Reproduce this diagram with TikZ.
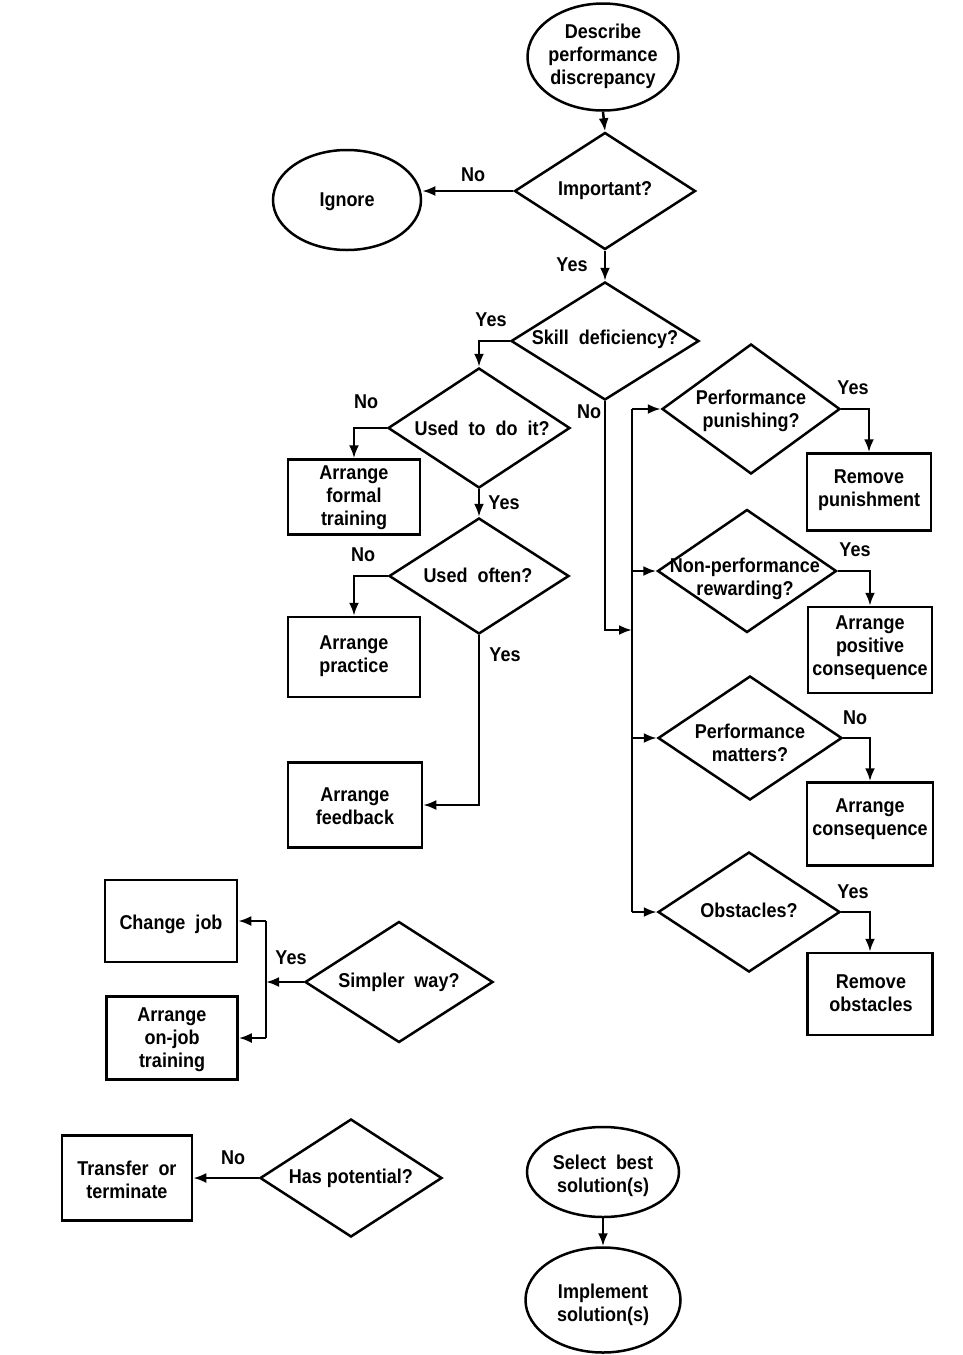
\documentclass[tikz,border=0pt]{standalone}
\usepackage{fontspec}
\setmainfont{Liberation Sans}[FakeStretch=0.9]
\usetikzlibrary{shapes.geometric,arrows.meta}
\tikzset{
  base/.style={draw=black, line width=2.5pt, inner sep=0pt, fill=white},
  dia/.style={base, diamond},
  ell/.style={base, ellipse},
  box/.style={base, rectangle},
  txt/.style={align=center, font=\fontsize{20}{23}\selectfont\bfseries, inner sep=0pt},
  lab/.style={font=\fontsize{20}{23}\selectfont\bfseries, inner sep=0pt},
  conn/.style={line width=2.5pt},
  arr/.style={conn, -{Latex[length=13pt,width=10pt]}}
}
\begin{document}
\begin{tikzpicture}[x=1pt,y=-1pt]
\useasboundingbox[fill=white] (0,0) rectangle (963,1355);

% ---- top column ----
\node[ell, minimum width=151, minimum height=107] (describe) at (603,57) {};
\node[txt] (describe-t) at (603,56) {Describe\\performance\\discrepancy};

\node[dia, minimum width=181, minimum height=117] (important) at (605,191) {};
\node[txt] (important-t) at (605,191) {Important?};

\node[ell, minimum width=148, minimum height=100] (ignore) at (347,200) {};
\node[txt] (ignore-t) at (347,202) {Ignore};

\node[dia, minimum width=188, minimum height=118] (skill) at (605,341) {};
\node[txt] (skill-t) at (605,339) {Skill\ \ deficiency?};

% ---- skill branch ----
\node[dia, minimum width=182, minimum height=120] (used) at (479,428) {};
\node[txt] (used-t) at (482,428) {Used\ \ to\ \ do\ \ it?};

\node[box, minimum width=132, minimum height=75] (formal) at (354,497) {};
\node[txt] (formal-t) at (354,498) {Arrange\\formal\\training};

\node[dia, minimum width=180, minimum height=116] (often) at (479,576) {};
\node[txt] (often-t) at (478,575) {Used\ \ often?};

\node[box, minimum width=132, minimum height=80] (practice) at (354,657) {};
\node[txt] (practice-t) at (354,656) {Arrange\\practice};

\node[box, minimum width=134, minimum height=85] (feedback) at (355,805) {};
\node[txt] (feedback-t) at (355,806) {Arrange\\feedback};

% ---- non-skill branch ----
\node[dia, minimum width=178, minimum height=130] (punish) at (751,409) {};
\node[txt] (punish-t) at (751,411) {Performance\\punishing?};

\node[box, minimum width=124, minimum height=77] (rempun) at (869,492) {};
\node[txt] (rempun-t) at (869,490) {Remove\\punishment};

\node[dia, minimum width=179, minimum height=123] (nonperf) at (747,571) {};
\node[txt] (nonperf-t) at (745,579) {Non-performance\\rewarding?};

\node[box, minimum width=124, minimum height=86] (poscons) at (870,650) {};
\node[txt] (poscons-t) at (870,648) {Arrange\\positive\\consequence};

\node[dia, minimum width=184, minimum height=124] (matters) at (750,738) {};
\node[txt] (matters-t) at (750,743) {Performance\\matters?};

\node[box, minimum width=126, minimum height=83] (cons) at (870,824) {};
\node[txt] (cons-t) at (870,819) {Arrange\\consequence};

\node[dia, minimum width=182, minimum height=120] (obst) at (749,912) {};
\node[txt] (obst-t) at (749,910) {Obstacles?};

\node[box, minimum width=125, minimum height=82] (remobs) at (870,994) {};
\node[txt] (remobs-t) at (871,993) {Remove\\obstacles};

% ---- lower left ----
\node[box, minimum width=132, minimum height=82] (changejob) at (171,921) {};
\node[txt] (changejob-t) at (171,924) {Change\ \ job};

\node[box, minimum width=131, minimum height=83] (onjob) at (172,1038) {};
\node[txt] (onjob-t) at (172,1040) {Arrange\\on-job\\training};

\node[dia, minimum width=188, minimum height=121] (simpler) at (399,982) {};
\node[txt] (simpler-t) at (399,982) {Simpler\ \ way?};

\node[box, minimum width=130, minimum height=85] (transfer) at (127,1178) {};
\node[txt] (transfer-t) at (127,1180) {Transfer\ \ or\\terminate};

\node[dia, minimum width=182, minimum height=118] (potential) at (351,1178) {};
\node[txt] (potential-t) at (351,1178) {Has\ potential?};

% ---- bottom ----
\node[ell, minimum width=152, minimum height=90] (select) at (603,1172) {};
\node[txt] (select-t) at (603,1176) {Select\ \ best\\solution(s)};

\node[ell, minimum width=155, minimum height=105] (implement) at (603,1300) {};
\node[txt] (implement-t) at (603,1305) {Implement\\solution(s)};

% ---- connectors ----
\draw[arr] (describe.south) -- (important.north);
\draw[arr] (important.west) -- (important.west -| ignore.east);
\draw[arr] (important.south) -- (skill.north);
\draw[arr] (skill.west) -| (used.north);
\draw[arr] (used.west) -| (formal.north);
\draw[arr] (used.south) -- (often.north);
\draw[arr] (often.west) -| (practice.north);
\draw[arr] (often.south) |- (feedback.east);

\coordinate (busJ) at (632,630);
\draw[arr] (skill.south) |- (busJ);
\draw[conn] (punish.west -| busJ) -- (obst.west -| busJ);
\draw[arr] (punish.west -| busJ) -- (punish.west);
\draw[arr] (nonperf.west -| busJ) -- (nonperf.west);
\draw[arr] (matters.west -| busJ) -- (matters.west);
\draw[arr] (obst.west -| busJ) -- (obst.west);

\draw[arr] (punish.east) -| (rempun.north);
\draw[arr] (nonperf.east) -| (poscons.north);
\draw[arr] (matters.east) -| (cons.north);
\draw[arr] (obst.east) -| (remobs.north);

\coordinate (sj) at (266,982);
\draw[arr] (simpler.west) -- (sj);
\draw[conn] (changejob.east -| sj) -- (onjob.east -| sj);
\draw[arr] (changejob.east -| sj) -- (changejob.east);
\draw[arr] (onjob.east -| sj) -- (onjob.east);

\draw[arr] (potential.west) -- (transfer.east);
\draw[arr] (select.south) -- (implement.north);

% ---- branch labels ----
\node[lab] (l1) at (473,175) {No};
\node[lab] (l2) at (572,265) {Yes};
\node[lab] (l3) at (491,320) {Yes};
\node[lab] (l4) at (366,402) {No};
\node[lab] (l5) at (504,503) {Yes};
\node[lab] (l6) at (363,555) {No};
\node[lab] (l7) at (505,655) {Yes};
\node[lab] (l8) at (589,412) {No};
\node[lab] (l9) at (853,388) {Yes};
\node[lab] (l10) at (855,550) {Yes};
\node[lab] (l11) at (855,718) {No};
\node[lab] (l12) at (853,892) {Yes};
\node[lab] (l13) at (291,958) {Yes};
\node[lab] (l14) at (233,1158) {No};
\end{tikzpicture}
\end{document}
